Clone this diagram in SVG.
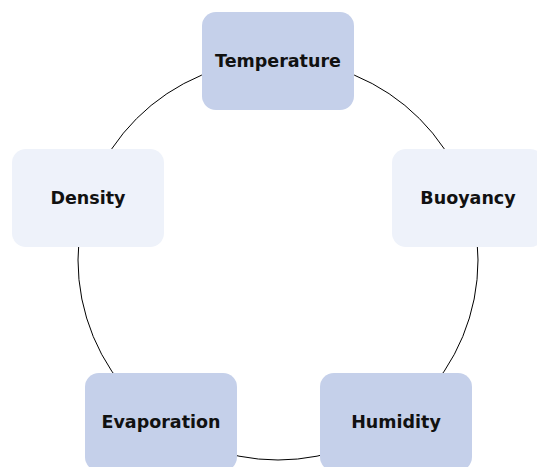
<svg xmlns="http://www.w3.org/2000/svg" width="537" height="467" viewBox="0 0 537 467">
<style>
.dark{fill:#c5d0ea}
.light{fill:#eef2fa}
.lbl{font-family:"DejaVu Sans",sans-serif;font-weight:bold;font-size:17.5px;fill:#111111;text-anchor:middle;dominant-baseline:central}
</style>
<rect width="537" height="467" fill="#ffffff"/>
<g id="connectors">
<circle cx="278" cy="260" r="200" fill="none" stroke="#000000" stroke-width="1"/>
</g>
<g id="temperature">
<rect class="dark" x="202" y="12" width="152" height="98" rx="14"/>
<text class="lbl" x="278" y="61">Temperature</text>
</g>
<g id="buoyancy">
<rect class="light" x="392" y="149" width="152" height="98" rx="14"/>
<text class="lbl" x="468" y="198">Buoyancy</text>
</g>
<g id="humidity">
<rect class="dark" x="320" y="373" width="152" height="98" rx="14"/>
<text class="lbl" x="396" y="422">Humidity</text>
</g>
<g id="evaporation">
<rect class="dark" x="85" y="373" width="152" height="98" rx="14"/>
<text class="lbl" x="161" y="422">Evaporation</text>
</g>
<g id="density">
<rect class="light" x="12" y="149" width="152" height="98" rx="14"/>
<text class="lbl" x="88" y="198">Density</text>
</g>
</svg>
